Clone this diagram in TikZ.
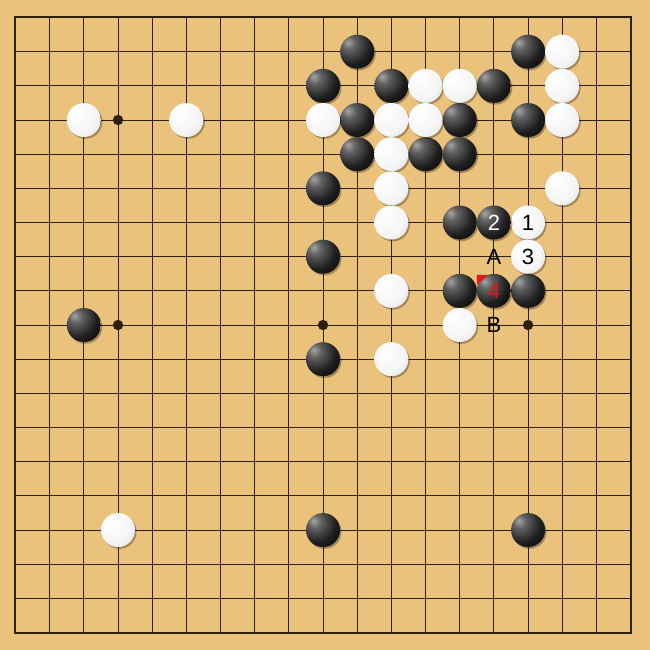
\documentclass[tikz,border=0pt]{standalone}
\usepackage{fontspec}
\setmainfont{Liberation Sans}
\usetikzlibrary{shadows,calc}
\definecolor{wood}{RGB}{234,194,124}
\definecolor{gridc}{RGB}{45,32,12}
\definecolor{markred}{RGB}{235,20,20}
\pgfdeclareradialshading{blackstone}{\pgfpoint{-14bp}{14bp}}{color(0bp)=(black!35); color(10bp)=(black!62); color(28bp)=(black!88); color(48bp)=(black); color(100bp)=(black)}
\pgfdeclareradialshading{whitestone}{\pgfpoint{-12bp}{12bp}}{color(0bp)=(white); color(28bp)=(white!96!black); color(46bp)=(white!86!black); color(58bp)=(white!68!black); color(100bp)=(white!65!black)}
\tikzset{
  gridline/.style={draw=gridc, line width=0.8pt},
  borderline/.style={draw=gridc, line width=2pt},
  stone/.style={circle, minimum size=34pt, inner sep=0pt, font=\fontsize{22}{22}\selectfont,
    drop shadow={shadow xshift=1.5pt, shadow yshift=-1.8pt, opacity=0.3, fill=black}},
  bstone/.style={stone, shading=blackstone, text=white},
  wstone/.style={stone, shading=whitestone, text=black},
  boardlabel/.style={inner sep=0pt, font=\fontsize{22}{22}\selectfont, text=black},
}
\begin{document}
\begin{tikzpicture}[x=34.17pt,y=-34.17pt]
\fill[wood] (-15.5pt,17.5pt) rectangle (634.5pt,-632.5pt);
\useasboundingbox (-15.5pt,17.5pt) rectangle (634.5pt,-632.5pt);
\foreach \i in {1,...,17} {
  \draw[gridline] (\i,0) -- (\i,18);
  \draw[gridline] (0,\i) -- (18,\i);
}
\draw[borderline] (0,0) rectangle (18,18);
\foreach \c/\r in {3/3,9/3,15/3,3/9,9/9,15/9,3/15,9/15,15/15}
  \fill[gridc] (\c,\r) circle (5.2pt);
% black stones
\foreach \c/\r in {10/1,15/1,9/2,11/2,14/2,10/3,13/3,15/3,10/4,12/4,13/4,9/5,13/6,9/7,13/8,15/8,2/9,9/10,9/15,15/15}
  \node[bstone] (b-\c-\r) at (\c,\r) {};
% white stones
\foreach \c/\r in {16/1,12/2,13/2,16/2,2/3,5/3,9/3,11/3,12/3,16/3,11/4,11/5,16/5,11/6,11/8,13/9,3/15,11/10}
  \node[wstone] (w-\c-\r) at (\c,\r) {};
% numbered stones
\node[wstone] (w-15-6) at (15,6) {1};
\node[bstone] (b-14-6) at (14,6) {2};
\node[wstone] (w-15-7) at (15,7) {3};
\node[bstone, text=markred] (b-14-8) at (14,8) {4};
% last-move marker
\fill[markred] ([shift={(-17pt,16pt)}]b-14-8.center) -- ([shift={(-6pt,16pt)}]b-14-8.center) -- ([shift={(-17pt,6pt)}]b-14-8.center) -- cycle;
% letters
\node[boardlabel] (lA) at (14,7) {A};
\node[boardlabel] (lB) at (14,9) {B};
\end{tikzpicture}
\end{document}
